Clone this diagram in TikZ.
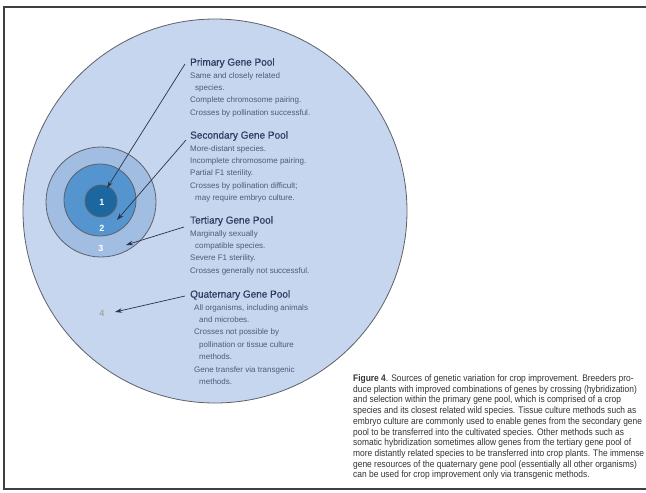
\documentclass[tikz,border=0pt]{standalone}
\usepackage{fontspec}
\setmainfont{Liberation Sans}
\newfontfamily\capfont[FakeStretch=0.885]{Liberation Sans}
\newfontfamily\headfont[FakeBold=0.6,FakeStretch=0.97]{Liberation Sans}
\usetikzlibrary{arrows.meta}
\definecolor{bigfill}{HTML}{C6D6EE}
\definecolor{ringthree}{HTML}{A2BDE2}
\definecolor{ringtwo}{HTML}{5595CF}
\definecolor{ringone}{HTML}{1D67A0}
\definecolor{edgegray}{HTML}{5E6068}
\definecolor{headcol}{HTML}{2E3E63}
\definecolor{bodycol}{HTML}{4C5B7A}
\definecolor{ptrcol}{HTML}{2A3345}
\definecolor{capcol}{HTML}{333333}
\tikzset{
  frameline/.style={draw=black!75, line width=1.1pt},
  pool/.style={circle, draw=edgegray, line width=0.8pt, inner sep=0pt},
  numlbl/.style={font=\fontsize{9}{9}\selectfont\bfseries, text=white, inner sep=0pt},
  poolblock/.style={anchor=north west, inner sep=0pt, align=left, text=bodycol,
     font=\fontsize{8}{12.4}\selectfont},
  ptr/.style={draw=ptrcol, line width=0.7pt, -{Stealth[length=7pt,width=4.5pt]}},
  captext/.style={anchor=north west, inner sep=0pt, align=left, text=capcol,
     font=\capfont\fontsize{9.5}{10.7}\selectfont}
}
\newcommand{\hd}[1]{{\color{headcol}\headfont\fontsize{10.3}{12.4}\selectfont #1}}
\newcommand{\ind}{\hspace*{5pt}}
\begin{document}
\begin{tikzpicture}[x=1pt,y=-1pt]
\useasboundingbox (0,0) rectangle (646,493);
\draw[frameline] (646,7) -- (4,7) -- (4,489) -- (646,489);

\node[pool, fill=bigfill, minimum size=384pt] (big) at (215,211) {};
\node[pool, fill=ringthree, minimum size=110pt] (ring3) at (101,202) {};
\node[pool, fill=ringtwo, minimum size=72pt] (ring2) at (100,200) {};
\node[pool, fill=ringone, minimum size=32pt] (ring1) at (101,201) {};

\node[numlbl] (n1) at (102,202) {1};
\node[numlbl] (n2) at (102,228) {2};
\node[numlbl] (n3) at (101,248) {3};
\node[numlbl, text=gray!70] (n4) at (102,313) {4};

\node[poolblock] (t1) at (190,58) {\hd{Primary Gene Pool}\\
Same and closely related\\
\ind species.\\
Complete chromosome pairing.\\
Crosses by pollination successful.};

\node[poolblock] (t2) at (190,131) {\hd{Secondary Gene Pool}\\
More-distant species.\\
Incomplete chromosome pairing.\\
Partial F1 sterility.\\
Crosses by pollination difficult;\\
\ind may require embryo culture.};

\node[poolblock] (t3) at (190,216) {\hd{Tertiary Gene Pool}\\
Marginally sexually\\
\ind compatible species.\\
Severe F1 sterility.\\
Crosses generally not successful.};

\node[poolblock] (t4) at (190,290) {\hd{Quaternary Gene Pool}\\
\hspace*{4pt}All organisms, including animals\\
\hspace*{4pt}\ind and microbes.\\
\hspace*{4pt}Crosses not possible by\\
\hspace*{4pt}\ind pollination or tissue culture\\
\hspace*{4pt}\ind methods.\\
\hspace*{4pt}Gene transfer via transgenic\\
\hspace*{4pt}\ind methods.};

\coordinate (s1) at (185,64);  \coordinate (e1) at (107,188);
\coordinate (s2) at (186,140); \coordinate (e2) at (117,220);
\coordinate (s3) at (184,227); \coordinate (e3) at (126,245);
\coordinate (s4) at (185,296); \coordinate (e4) at (115,312);
\draw[ptr] (s1) -- (e1);
\draw[ptr] (s2) -- (e2);
\draw[ptr] (s3) -- (e3);
\draw[ptr] (s4) -- (e4);

\node[captext] (cap) at (353,374.5) {\textbf{Figure 4}. Sources of genetic variation for crop improvement. Breeders pro-\\
duce plants with improved combinations of genes by crossing (hybridization)\\
and selection within the primary gene pool, which is comprised of a crop\\
species and its closest related wild species. Tissue culture methods such as\\
embryo culture are commonly used to enable genes from the secondary gene\\
pool to be transferred into the cultivated species. Other methods such as\\
somatic hybridization sometimes allow genes from the tertiary gene pool of\\
more distantly related species to be transferred into crop plants. The immense\\
gene resources of the quaternary gene pool (essentially all other organisms)\\
can be used for crop improvement only via transgenic methods.};
\end{tikzpicture}
\end{document}
